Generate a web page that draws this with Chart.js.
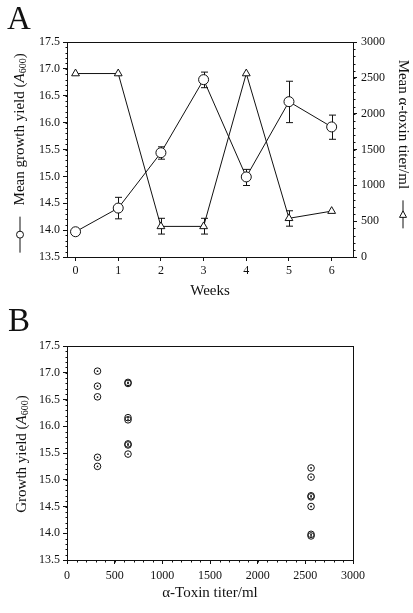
<!DOCTYPE html>
<html>
<head>
<meta charset="utf-8">
<script src="https://cdn.jsdelivr.net/npm/chart.js@4"></script>
<style>
  body { margin: 0; background: #fff; }
  .wrap { position: relative; width: 413px; height: 613px; }
  .panel { position: absolute; left: 0; }
  .tag { position: absolute; font-family: "Liberation Serif", serif; font-size: 33px; color: #111; }
</style>
</head>
<body>
<div class="wrap">
  <canvas id="chartA" class="panel" style="top:0" width="413" height="300"></canvas>
  <canvas id="chartB" class="panel" style="top:300px" width="413" height="313"></canvas>
  <div class="tag" style="left:7px; top:0px;">A</div>
  <div class="tag" style="left:8px; top:302px;">B</div>
</div>
<script>
// panel A: weekly means
const weeks = [0, 1, 2, 3, 4, 5, 6];
const growthMean = [13.97, 14.41, 15.44, 16.80, 14.99, 16.39, 15.92];
const growthLow  = [13.97, 14.21, 15.32, 16.65, 14.83, 16.00, 15.69];
const growthHigh = [13.97, 14.61, 15.55, 16.94, 15.13, 16.77, 16.14];
const toxinMean = [2560, 2560, 427, 427, 2560, 540, 640];
const toxinLow  = [2560, 2560, 320, 320, 2560, 430, 640];
const toxinHigh = [2560, 2560, 540, 540, 2560, 645, 640];

// panel B: individual cultures
const titerB  = [320, 320, 320, 320, 320,
                 640, 640, 640, 640, 640, 640, 640,
                 2560, 2560, 2560, 2560, 2560, 2560, 2560];
const growthB = [17.03, 16.75, 16.55, 15.42, 15.25,
                 16.82, 16.80, 16.16, 16.12, 15.67, 15.65, 15.48,
                 15.22, 15.05, 14.70, 14.68, 14.50, 13.98, 13.95];

const FONT = '"Liberation Serif", "Times New Roman", serif';
const INK = '#111';

function drawRich(ctx, x, y, angle, parts) {
  ctx.save();
  ctx.translate(x, y);
  ctx.rotate(angle);
  ctx.textBaseline = 'middle';
  let total = 0;
  parts.forEach(p => {
    if (p.sym) { p.w = p.sym.w; }
    else { ctx.font = p.f; p.w = ctx.measureText(p.t).width; }
    total += p.w;
  });
  let cx = -total / 2;
  parts.forEach(p => {
    if (p.sym) {
      ctx.strokeStyle = INK; ctx.lineWidth = 1;
      ctx.beginPath(); ctx.moveTo(cx, 0); ctx.lineTo(cx + p.w, 0); ctx.stroke();
      const mx = cx + p.w / 2;
      ctx.fillStyle = '#fff';
      ctx.beginPath();
      if (p.sym.kind === 'circle') {
        ctx.arc(mx, 0, 3.5, 0, Math.PI * 2);
      } else {
        ctx.moveTo(mx - 3.5, 0); ctx.lineTo(mx + 3, -3.5); ctx.lineTo(mx + 3, 3.5); ctx.closePath();
      }
      ctx.fill(); ctx.stroke();
    } else {
      ctx.font = p.f;
      ctx.fillStyle = INK;
      ctx.fillText(p.t, cx, p.dy || 0);
    }
    cx += p.w;
  });
  ctx.restore();
}

const framePlugin = {
  id: 'frame',
  beforeDatasetsDraw(chart) {
    const { ctx, chartArea: a } = chart;
    ctx.save();
    ctx.strokeStyle = INK; ctx.lineWidth = 1;
    ctx.strokeRect(Math.round(a.left) + 0.5, Math.round(a.top) + 0.5,
                   Math.round(a.right - a.left), Math.round(a.bottom - a.top));
    // minor ticks
    (chart.options.plugins.minor || []).forEach(m => {
      const s = chart.scales[m.axis];
      const n = Math.round((s.max - s.min) / m.step);
      ctx.beginPath();
      for (let i = 0; i <= n; i++) {
        const p = Math.round(s.getPixelForValue(s.min + i * m.step)) + 0.5;
        if (m.axis === 'x') {
          const y0 = Math.round(a.bottom) + 0.5;
          ctx.moveTo(p, y0); ctx.lineTo(p, y0 + m.len);
        } else if (s.position === 'left') {
          const x0 = Math.round(a.left) + 0.5;
          ctx.moveTo(x0, p); ctx.lineTo(x0 - m.len, p);
        } else {
          const x0 = Math.round(a.right) + 0.5;
          ctx.moveTo(x0, p); ctx.lineTo(x0 + m.len, p);
        }
      }
      ctx.stroke();
    });
    // error bars
    chart.data.datasets.forEach(ds => {
      if (!ds.errLow) return;
      const ys = chart.scales[ds.yAxisID];
      const xs = chart.scales.x;
      ctx.beginPath();
      ds.data.forEach((pt, i) => {
        if (ds.errLow[i] === ds.errHigh[i]) return;
        const px = Math.round(xs.getPixelForValue(pt.x)) + 0.5;
        const lo = ys.getPixelForValue(ds.errLow[i]);
        const hi = ys.getPixelForValue(ds.errHigh[i]);
        ctx.moveTo(px, lo); ctx.lineTo(px, hi);
        ctx.moveTo(px - 3.5, lo); ctx.lineTo(px + 3.5, lo);
        ctx.moveTo(px - 3.5, hi); ctx.lineTo(px + 3.5, hi);
      });
      ctx.stroke();
    });
    ctx.restore();
  },
  afterDraw(chart) {
    (chart.options.plugins.richTitles || []).forEach(t => {
      drawRich(chart.ctx, t.x, t.y, t.angle, t.parts.map(p => Object.assign({}, p)));
    });
  }
};

const tickFont = { family: FONT, size: 12 };
const titleF = '15px ' + FONT;

function axisBase() {
  return {
    grid: { drawOnChartArea: false, tickLength: 4, color: INK },
    border: { color: INK },
    ticks: { font: tickFont, color: INK, padding: 3 }
  };
}

new Chart(document.getElementById('chartA'), {
  type: 'line',
  data: {
    datasets: [{
      label: 'Mean growth yield',
      data: weeks.map((w, i) => ({ x: w, y: growthMean[i] })),
      yAxisID: 'y',
      borderColor: INK, borderWidth: 1,
      pointStyle: 'circle', pointRadius: 5,
      pointBackgroundColor: '#fff', pointBorderColor: INK, pointBorderWidth: 1,
      errLow: growthLow, errHigh: growthHigh
    }, {
      label: 'Mean alpha-toxin titer',
      data: weeks.map((w, i) => ({ x: w, y: toxinMean[i] })),
      yAxisID: 'y2',
      borderColor: INK, borderWidth: 1,
      pointStyle: 'triangle', pointRadius: 4.5,
      pointBackgroundColor: '#fff', pointBorderColor: INK, pointBorderWidth: 1,
      errLow: toxinLow, errHigh: toxinHigh
    }]
  },
  options: {
    responsive: false,
    animation: false,
    layout: { padding: { top: 42, left: 0, right: 0, bottom: 0 } },
    plugins: {
      legend: { display: false },
      tooltip: { enabled: false },
      minor: [{ axis: 'y', step: 0.1, len: 2 }, { axis: 'y2', step: 100, len: 2 }],
      richTitles: [{
        x: 20, y: 153, angle: -Math.PI / 2,
        parts: [
          { sym: { kind: 'circle', w: 36 } },
          { t: '   Mean growth yield (', f: titleF },
          { t: 'A', f: 'italic ' + titleF },
          { t: '600', f: '10px ' + FONT, dy: 3 },
          { t: ')', f: titleF }
        ]
      }, {
        x: 403, y: 144, angle: Math.PI / 2,
        parts: [
          { t: 'Mean α-toxin titer/ml   ', f: titleF },
          { sym: { kind: 'tri', w: 28 } }
        ]
      }]
    },
    scales: {
      x: Object.assign(axisBase(), {
        type: 'linear', min: -0.2, max: 6.5,
        afterBuildTicks: s => { s.ticks = weeks.map(v => ({ value: v })); },
        title: { display: true, text: 'Weeks', font: { family: FONT, size: 15 }, color: INK, padding: { top: 2, bottom: 0 } },
        afterFit: s => { s.height = 43; }
      }),
      y: Object.assign(axisBase(), {
        position: 'left', min: 13.5, max: 17.5,
        ticks: { font: tickFont, color: INK, padding: 3, stepSize: 0.5, callback: v => v.toFixed(1) },
        afterFit: s => { s.width = 67; }
      }),
      y2: Object.assign(axisBase(), {
        position: 'right', min: 0, max: 3000,
        ticks: { font: tickFont, color: INK, padding: 4, stepSize: 500, callback: v => String(v) },
        afterFit: s => { s.width = 60; }
      })
    }
  },
  plugins: [framePlugin]
});

new Chart(document.getElementById('chartB'), {
  type: 'scatter',
  data: {
    datasets: [{
      label: 'Growth yield',
      data: titerB.map((t, i) => ({ x: t, y: growthB[i] })),
      pointStyle: 'circle', pointRadius: 3.3,
      pointBackgroundColor: 'rgba(255,255,255,0)', pointBorderColor: INK, pointBorderWidth: 1
    }, {
      label: 'centre',
      data: titerB.map((t, i) => ({ x: t, y: growthB[i] })),
      pointStyle: 'circle', pointRadius: 0.9,
      pointBackgroundColor: INK, pointBorderWidth: 0
    }]
  },
  options: {
    responsive: false,
    animation: false,
    layout: { padding: { top: 46, left: 0, right: 60, bottom: 0 } },
    plugins: {
      legend: { display: false },
      tooltip: { enabled: false },
      minor: [{ axis: 'y', step: 0.1, len: 2 }, { axis: 'x', step: 100, len: 2 }],
      richTitles: [{
        x: 22, y: 154, angle: -Math.PI / 2,
        parts: [
          { t: 'Growth yield (', f: titleF },
          { t: 'A', f: 'italic ' + titleF },
          { t: '600', f: '10px ' + FONT, dy: 3 },
          { t: ')', f: titleF }
        ]
      }]
    },
    scales: {
      x: Object.assign(axisBase(), {
        type: 'linear', min: 0, max: 3000,
        ticks: { font: tickFont, color: INK, padding: 5, stepSize: 500, callback: v => String(v) },
        title: { display: true, text: 'α-Toxin titer/ml', font: { family: FONT, size: 15 }, color: INK, padding: { top: 2, bottom: 11 } },
        afterFit: s => { s.height = 53; }
      }),
      y: Object.assign(axisBase(), {
        position: 'left', min: 13.5, max: 17.5,
        ticks: { font: tickFont, color: INK, padding: 3, stepSize: 0.5, callback: v => v.toFixed(1) },
        afterFit: s => { s.width = 67; }
      })
    }
  },
  plugins: [framePlugin]
});
</script>
</body>
</html>
